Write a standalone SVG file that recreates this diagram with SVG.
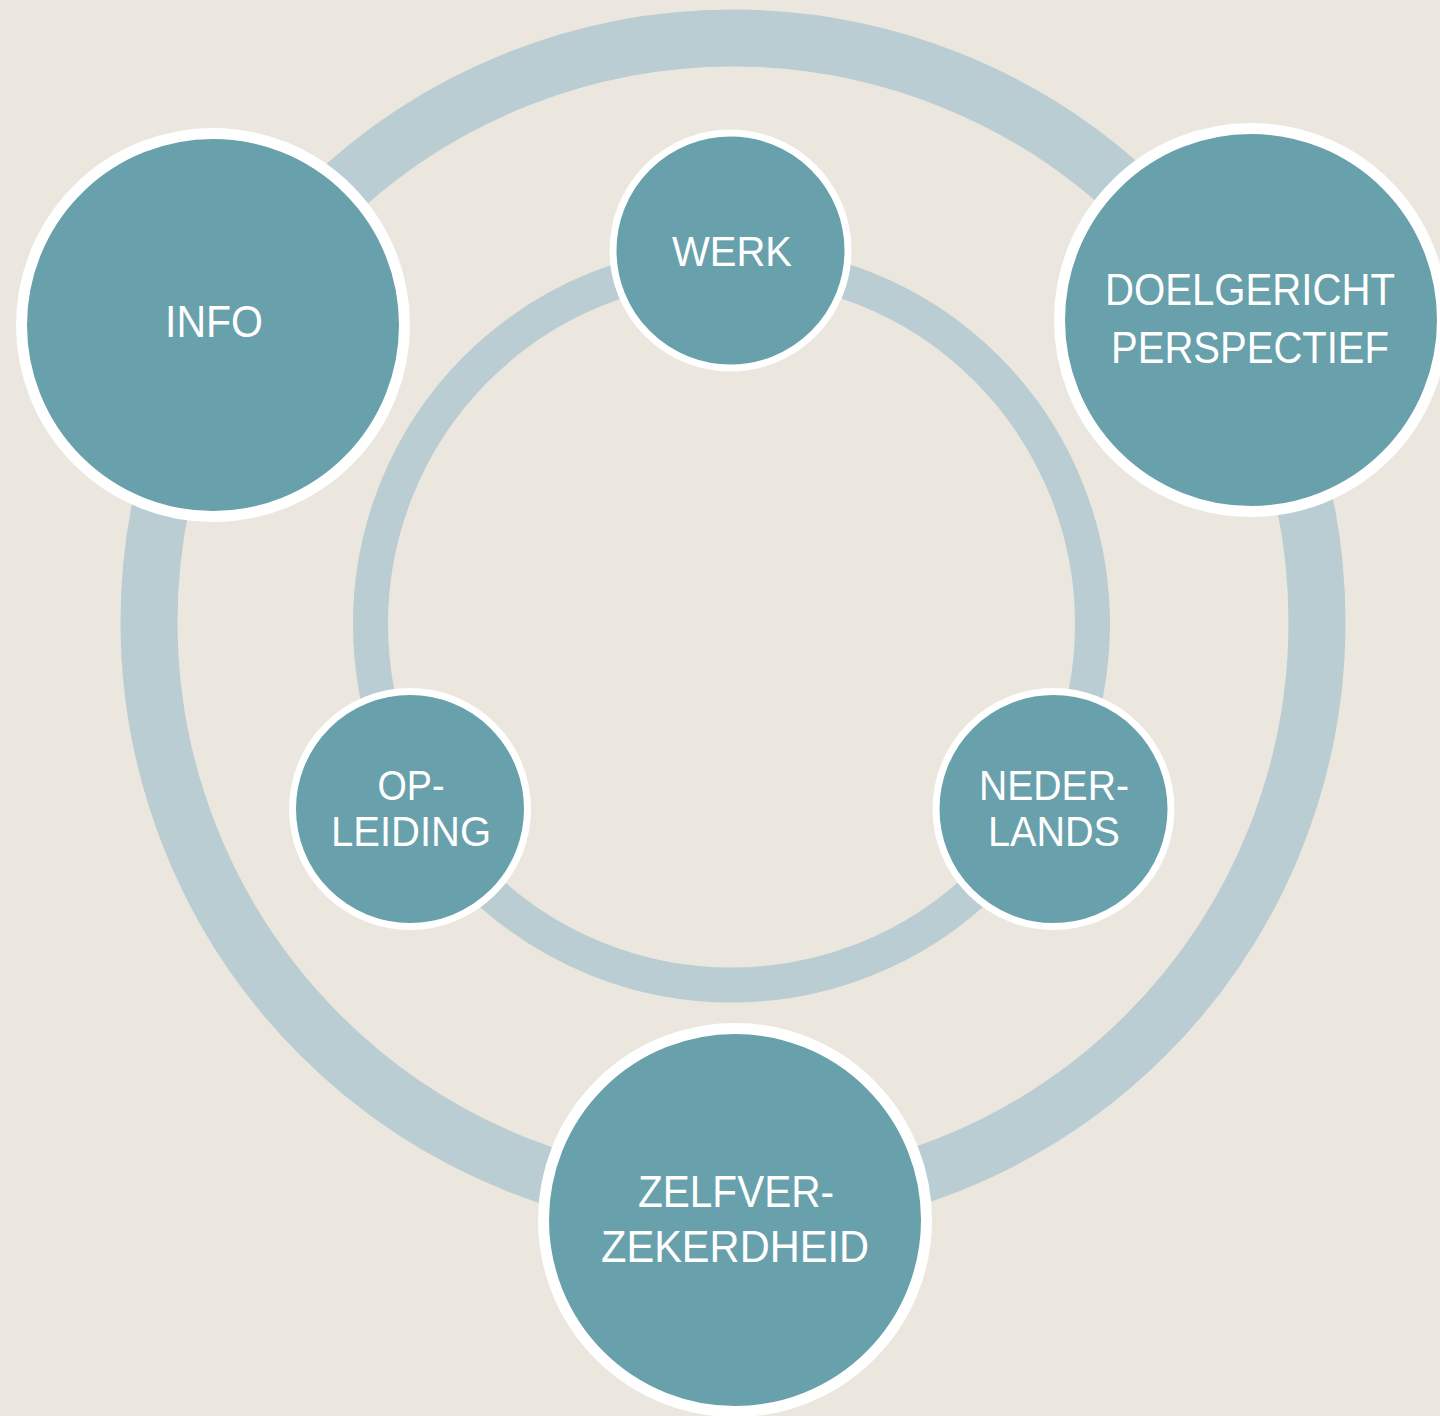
<svg xmlns="http://www.w3.org/2000/svg" width="1440" height="1416" viewBox="0 0 1440 1416">
  <style>
    .ring { fill: none; stroke: #B9CDD3; }
    .big { fill: #68A1AB; stroke: #FFFFFF; stroke-width: 11; }
    .small { fill: #68A1AB; stroke: #FFFFFF; stroke-width: 7; }
    .lbl { fill: #FFFFFF; font-family: "Liberation Sans", Arial, sans-serif; text-anchor: middle; }
    .lb { font-size: 45px; }
    .ls { font-size: 42px; }
  </style>
  <rect width="1440" height="1416" fill="#EBE7DE"/>
  <g id="connectors">
    <circle class="ring" cx="733" cy="622" r="584" stroke-width="57"/>
    <circle class="ring" cx="731.5" cy="624" r="361" stroke-width="35"/>
  </g>
  <g id="node-info">
    <circle class="big" cx="213" cy="325" r="191.5"/>
    <text class="lbl lb" x="214" y="337" textLength="98" lengthAdjust="spacingAndGlyphs">INFO</text>
  </g>
  <g id="node-doelgericht">
    <circle class="big" cx="1251" cy="320" r="191.5"/>
    <text class="lbl lb" x="1250" y="305" textLength="290" lengthAdjust="spacingAndGlyphs">DOELGERICHT</text>
    <text class="lbl lb" x="1250" y="363" textLength="278" lengthAdjust="spacingAndGlyphs">PERSPECTIEF</text>
  </g>
  <g id="node-zelfverzekerdheid">
    <circle class="big" cx="735" cy="1220" r="191.5"/>
    <text class="lbl lb" x="736" y="1207" textLength="196" lengthAdjust="spacingAndGlyphs">ZELFVER-</text>
    <text class="lbl lb" x="735" y="1262" textLength="268" lengthAdjust="spacingAndGlyphs">ZEKERDHEID</text>
  </g>
  <g id="node-werk">
    <circle class="small" cx="730.5" cy="250.5" r="117.5"/>
    <text class="lbl ls" x="732" y="266" textLength="120" lengthAdjust="spacingAndGlyphs">WERK</text>
  </g>
  <g id="node-opleiding">
    <circle class="small" cx="410" cy="809" r="117.5"/>
    <text class="lbl ls" x="411" y="800" textLength="67" lengthAdjust="spacingAndGlyphs">OP-</text>
    <text class="lbl ls" x="411" y="846" textLength="160" lengthAdjust="spacingAndGlyphs">LEIDING</text>
  </g>
  <g id="node-nederlands">
    <circle class="small" cx="1053.5" cy="809" r="117.5"/>
    <text class="lbl ls" x="1054" y="800" textLength="150" lengthAdjust="spacingAndGlyphs">NEDER-</text>
    <text class="lbl ls" x="1054" y="846" textLength="132" lengthAdjust="spacingAndGlyphs">LANDS</text>
  </g>
</svg>
